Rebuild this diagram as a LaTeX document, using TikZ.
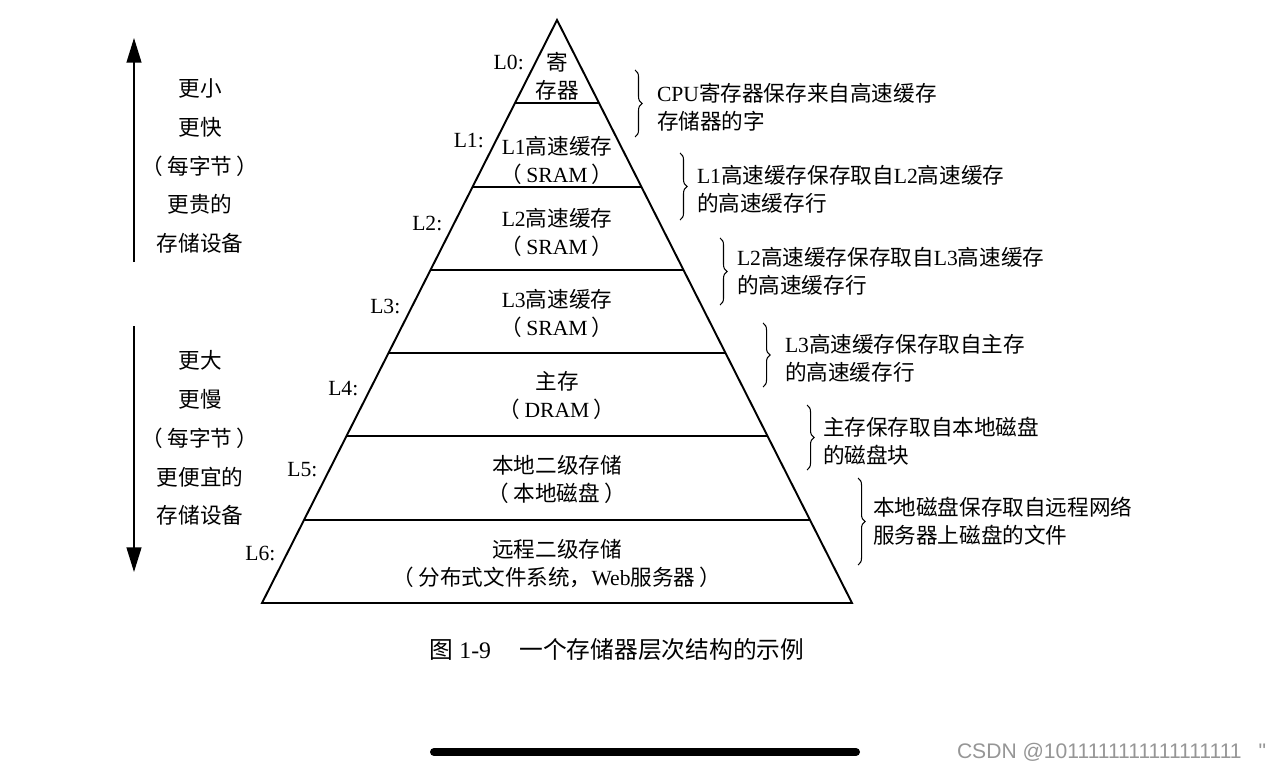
\documentclass[tikz,border=0pt]{standalone}
\usepackage{fontspec}
\setmainfont{Liberation Serif}
\newfontfamily\cjk{Noto Sans CJK SC}
\newfontfamily\wmfont{Liberation Sans}
\usetikzlibrary{arrows.meta,decorations.pathreplacing,calc}
\newcommand{\zh}[1]{{\cjk #1}}
\newcommand{\lp}{\zh{（}\hspace{0.2em}}
\newcommand{\rp}{\hspace{0.2em}\zh{）}}

\begin{document}
\begin{tikzpicture}[x=0.02cm,y=-0.02cm,
    every node/.style={inner sep=0pt,outer sep=0pt},
    edge/.style={line width=1.1pt},
    body/.style={font=\fontsize{12.3}{15.9}\selectfont,align=center},
    note/.style={font=\fontsize{12.3}{15.9}\selectfont,align=left,anchor=west},
    lvlabel/.style={font=\fontsize{12.3}{15}\selectfont,anchor=east},
    side/.style={font=\fontsize{12.3}{22.1}\selectfont\cjk,align=center},
    curly/.style={decorate,decoration={brace,amplitude=4pt},line width=0.6pt},
    updown/.style={line width=0.7pt,-{Triangle[length=14pt,width=8.5pt]}}]
    \definecolor{wmgray}{RGB}{150,150,150}

    \useasboundingbox (0,0) rectangle (1280,770);

    % pyramid
    \coordinate (apex) at (557,20);
    \coordinate (bl) at (262,603);
    \coordinate (br) at (852,603);
    \draw[edge] (apex) -- (bl) -- (br) -- cycle;
    \foreach \i in {1,...,6}
      \draw[edge] ($(apex)!\i/7!(bl)$) -- ($(apex)!\i/7!(br)$);

    \foreach \lv/\ly in {0/62,1/141,2/223,3/306,4/389,5/470,6/553}
      \node[lvlabel] (lab\lv) at ({557-0.506*(\ly-20)-12},\ly) {L\lv:};

    \node[body] (lv0) at (557,76) {\zh{寄}\\\zh{存器}};
    \node[body] (lv1) at (557,160) {L1\zh{高速缓存}\\\lp SRAM\rp};
    \node[body] (lv2) at (557,232) {L2\zh{高速缓存}\\\lp SRAM\rp};
    \node[body] (lv3) at (557,313) {L3\zh{高速缓存}\\\lp SRAM\rp};
    \node[body] (lv4) at (557,395) {\zh{主存}\\\lp DRAM\rp};
    \node[body] (lv5) at (557,479) {\zh{本地二级存储}\\\lp\zh{本地磁盘}\rp};
    \node[body] (lv6) at (557,564) {\zh{远程二级存储}\\\lp\zh{分布式文件系统，}Web\zh{服务器}\rp};

    % braces and notes
    \foreach \bx/\btop/\bbot in {635/70/137,680/153/220,720/238/305,763/323/387,807/405/470,858/478/565}
      \draw[curly] (\bx,\btop) -- (\bx,\bbot);

    \node[note] (note0) at (657,107) {CPU\zh{寄存器保存来自高速缓存}\\\zh{存储器的字}};
    \node[note] (note1) at (697,189) {L1\zh{高速缓存保存取自}L2\zh{高速缓存}\\\zh{的高速缓存行}};
    \node[note] (note2) at (737,271) {L2\zh{高速缓存保存取自}L3\zh{高速缓存}\\\zh{的高速缓存行}};
    \node[note] (note3) at (785,358) {L3\zh{高速缓存保存取自主存}\\\zh{的高速缓存行}};
    \node[note] (note4) at (823,441) {\zh{主存保存取自本地磁盘}\\\zh{的磁盘块}};
    \node[note] (note5) at (873,521) {\zh{本地磁盘保存取自远程网络}\\\zh{服务器上磁盘的文件}};

    % left side
    \coordinate (upA) at (134,262);
    \coordinate (upB) at (134,38);
    \draw[updown] (upA) -- (upB);
    \coordinate (dnA) at (134,326);
    \coordinate (dnB) at (134,572);
    \draw[updown] (dnA) -- (dnB);

    \node[side] (fast) at (200,166) {更小\\更快\\\lp 每字节\rp\\更贵的\\存储设备};
    \node[side] (slow) at (200,438) {更大\\更慢\\\lp 每字节\rp\\更便宜的\\存储设备};

    \node[font=\fontsize{13.5}{16}\selectfont] (caption) at (617,650) {\zh{图} 1-9\hspace{1.2em}\zh{一个存储器层次结构的示例}};

    % screenshot leftovers
    \coordinate (homeL) at (434,752);
    \coordinate (homeR) at (856,752);
    \draw[line width=0.16cm,line cap=round] (homeL) -- (homeR);
    \node[anchor=west,font=\wmfont\fontsize{12}{14}\selectfont,text=wmgray] (mark) at (957,752) {CSDN @1011111111111111111\hspace{0.8em}"};
  \end{tikzpicture}
\end{document}
